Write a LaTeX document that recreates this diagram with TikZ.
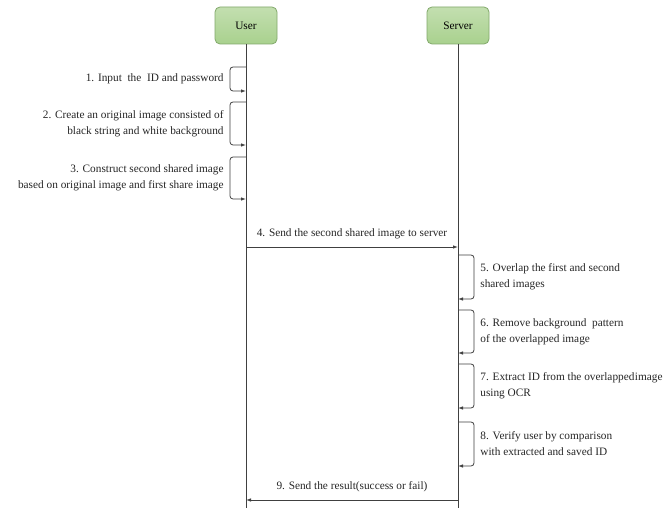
\documentclass[tikz,border=0pt]{standalone}
\usepackage{fontspec}
\setmainfont{Liberation Serif}
\usetikzlibrary{positioning,arrows.meta}

\definecolor{boxfill}{HTML}{A9D18E}
\definecolor{boxline}{HTML}{82A96B}
\definecolor{wire}{HTML}{404040}

\begin{document}
\begin{tikzpicture}[x=1pt,y=-1pt,node distance=212pt,on grid,
	font=\rmfamily\fontsize{11.3}{16}\selectfont,
	actor/.style={draw=boxline,line width=0.8pt,rounded corners=5pt,top color=boxfill!70,bottom color=boxfill,minimum width=62pt,minimum height=37pt,inner sep=0pt},
	life/.style={draw=wire,line width=1pt},
	msg/.style={draw=wire,line width=0.8pt,-{Latex[length=5pt,width=3.5pt]}},
	selfmsg/.style={msg,rounded corners=3pt},
	note/.style={inner sep=0pt,text=black!85}]

	\fill[white] (0,0) rectangle (665,508);
	\useasboundingbox (0,0) rectangle (665,508);

	\node[actor] (user) at (246,25.5) {User};
	\node[actor] (server) [right=of user] {Server};

	\coordinate (bottom) at (0,508);
	\draw[life] (user) -- (user |- bottom);
	\draw[life] (server) -- (server |- bottom);

	% steps on the user side
	\coordinate (u1 top) at (246,67);  \coordinate (u1 bot) at (246,91);
	\coordinate (u2 top) at (246,102); \coordinate (u2 bot) at (246,145);
	\coordinate (u3 top) at (246,157); \coordinate (u3 bot) at (246,199);

	\draw[selfmsg] (u1 top) -- ++(-16,0) |- node[note,pos=0.25,left=6pt,align=right] {1. Input\ \ the\ \ ID and password} (u1 bot);
	\draw[selfmsg] (u2 top) -- ++(-16,0) |- node[note,pos=0.25,left=6pt,align=right] {2. Create an original image consisted of\\black string and white background} (u2 bot);
	\draw[selfmsg] (u3 top) -- ++(-16,0) |- node[note,pos=0.25,left=6pt,align=right] {3. Construct second shared image\\based on original image and first share image} (u3 bot);

	% user to server
	\coordinate (u4) at (user |- 0,247);
	\coordinate (s4) at (server |- 0,247);
	\draw[msg] (u4) -- node[note,above=8pt] {4. Send the second shared image to server} (s4);

	% steps on the server side
	\coordinate (s5 top) at (458,255); \coordinate (s5 bot) at (458,299);
	\coordinate (s6 top) at (458,310); \coordinate (s6 bot) at (458,353);
	\coordinate (s7 top) at (458,364); \coordinate (s7 bot) at (458,408);
	\coordinate (s8 top) at (458,422); \coordinate (s8 bot) at (458,466);

	\draw[selfmsg] (s5 top) -- ++(16,0) |- node[note,pos=0.25,right=6pt,align=left] {5. Overlap the first and second\\shared images} (s5 bot);
	\draw[selfmsg] (s6 top) -- ++(16,0) |- node[note,pos=0.25,right=6pt,align=left] {6. Remove background\ \ pattern\\of the overlapped image} (s6 bot);
	\draw[selfmsg] (s7 top) -- ++(16,0) |- node[note,pos=0.25,right=6pt,align=left] {7. Extract ID from the overlapped\hspace{0.5pt}image\\using OCR} (s7 bot);
	\draw[selfmsg] (s8 top) -- ++(16,0) |- node[note,pos=0.25,right=6pt,align=left] {8. Verify user by comparison\\with extracted and saved ID} (s8 bot);

	% result back to user
	\coordinate (s9) at (server |- 0,500);
	\coordinate (u9) at (user |- 0,500);
	\draw[msg] (s9) -- node[note,above=8pt] {9. Send the result(success or fail)} (u9);

\end{tikzpicture}
\end{document}
